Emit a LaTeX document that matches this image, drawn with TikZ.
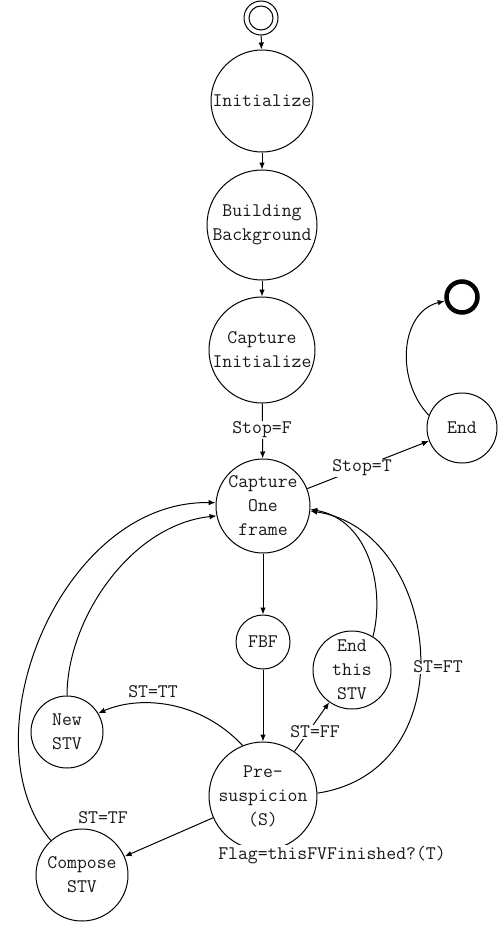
\documentclass[tikz,border=0pt]{standalone}
\usepackage{fontspec}
\usetikzlibrary{arrows.meta}
\newcommand{\mytxt}{\ttfamily\fontsize{19.2}{24}\selectfont}
\begin{document}
\begin{tikzpicture}[x=1pt,y=1pt,
  st/.style={circle,draw,line width=1pt,inner sep=0pt,align=center,font=\mytxt,text=black!90},
  lbl/.style={fill=white,inner sep=1pt,font=\mytxt,text=black!90},
  arr/.style={line width=1pt,-{Latex[length=7pt,width=5.5pt]}}]
\useasboundingbox (0,0) rectangle (498,-926);
% states
\node[circle,draw,line width=1pt,minimum size=34pt,inner sep=0pt] (initial) at (261,-18) {};
\node[circle,draw,line width=1pt,minimum size=24pt,inner sep=0pt] (initialin) at (261,-18) {};
\node[st,minimum size=102pt] (init) at (262,-101) {Initialize};
\node[st,minimum size=110pt] (build) at (262,-225) {Building\\Background};
\node[st,minimum size=106pt] (capinit) at (262,-350) {Capture\\Initialize};
\node[st,minimum size=94pt] (cap) at (263,-506) {Capture\\One\\frame};
\node[st,minimum size=70pt] (endn) at (462,-428) {End};
\node[circle,draw,line width=4.5pt,minimum size=31pt,inner sep=0pt] (final) at (462,-297) {};
\node[st,minimum size=54pt] (fbf) at (263,-642) {FBF};
\node[st,minimum size=78pt] (endstv) at (352,-670) {End\\this\\STV};
\node[st,minimum size=72pt] (newstv) at (67,-732) {New\\STV};
\node[st,minimum size=102pt] (pre) at (263,-796) {Pre-\\suspicion\\(S)};
\node[st,minimum size=92pt] (comp) at (82,-875) {Compose\\STV};
% connectors
\draw[arr] (initial) -- (init);
\draw[arr] (init) -- (build);
\draw[arr] (build) -- (capinit);
\draw[arr] (capinit) -- (cap);
\draw[arr] (cap) -- (endn);
\draw[arr] (endn.159) .. controls (395,-380) and (400,-312) .. (final.193);
\draw[arr] (cap) -- (fbf);
\draw[arr] (fbf) -- (pre);
\draw[arr] (pre.112) .. controls (200,-700) and (140,-695) .. (newstv.31);
\draw[arr] (pre) -- (endstv);
\draw[arr] (pre) -- (comp);
\draw[arr] (pre.3) .. controls (470,-770) and (440,-530) .. (cap.-6);
\draw[arr] (endstv.58) .. controls (385,-590) and (370,-520) .. (cap.-4);
\draw[arr] (newstv.north) .. controls (67,-620) and (130,-525) .. (cap.192);
\draw[arr] (comp.132) .. controls (-35,-740) and (60,-500) .. (cap.176);
% labels
\node[lbl] (lstopf) at (262,-430) {Stop=F};
\node[lbl] (lstopt) at (362,-468) {Stop=T};
\node[lbl] (lft) at (438,-667) {ST=FT};
\node[lbl] (ltt) at (153,-692) {ST=TT};
\node[lbl] (lff) at (315,-732) {ST=FF};
\node[lbl] (ltf) at (103,-818) {ST=TF};
\node[lbl] (lflag) at (332,-855) {Flag=thisFVFinished?(T)};
\end{tikzpicture}
\end{document}
